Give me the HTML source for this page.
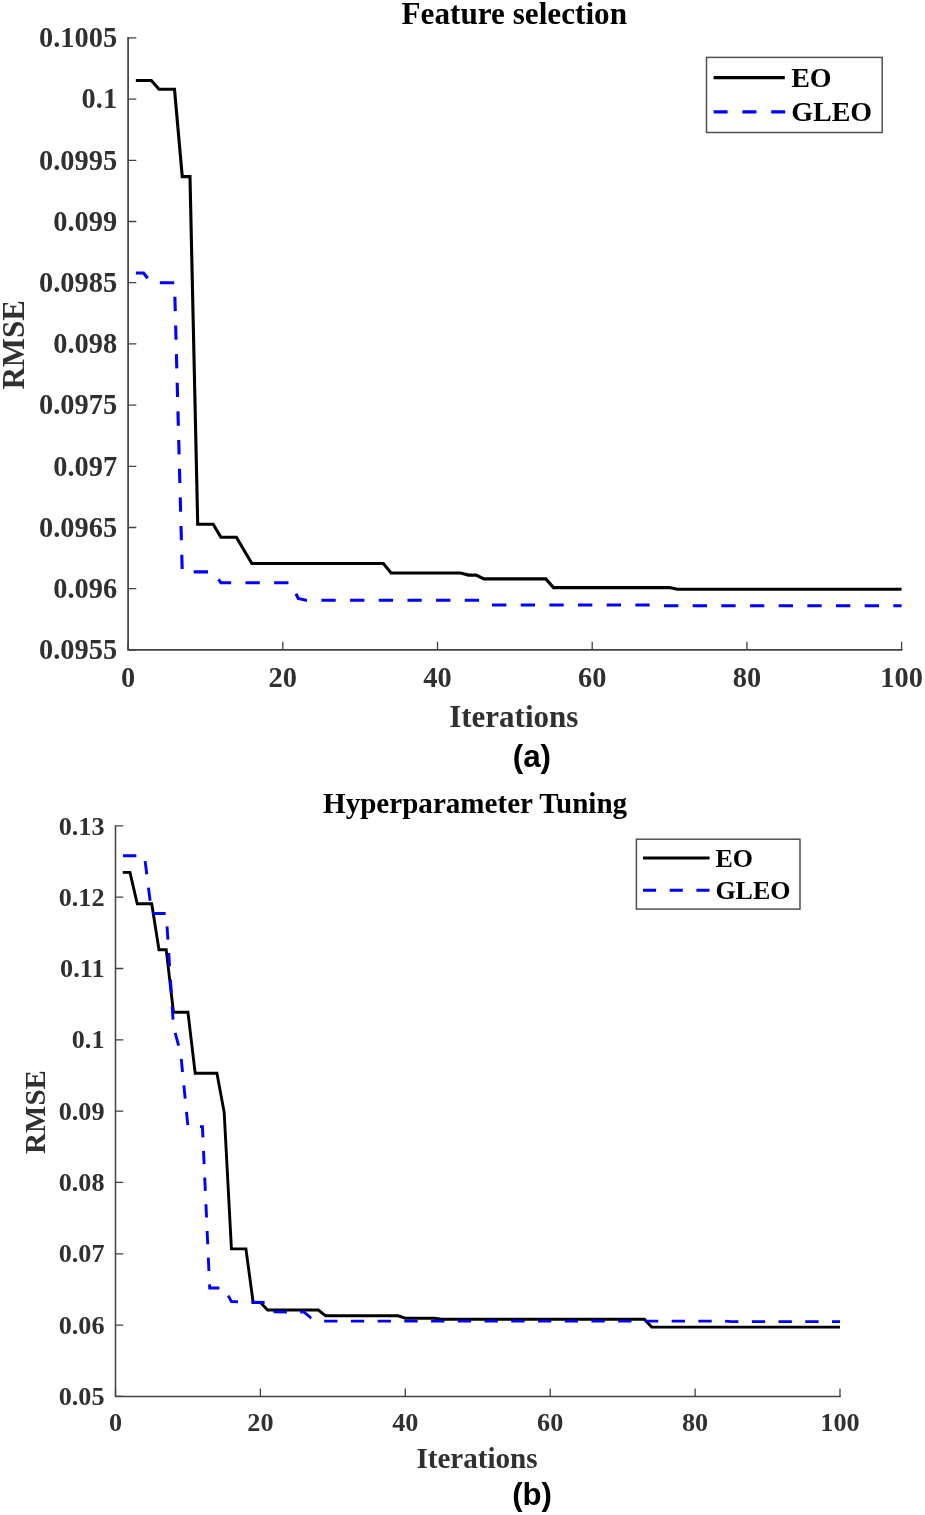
<!DOCTYPE html><html><head><meta charset="utf-8"><style>html,body{margin:0;padding:0;background:#fff;}svg{display:block;will-change:transform;} text{font-family:"Liberation Serif",serif;font-weight:bold;}</style></head><body>
<svg width="925" height="1515" viewBox="0 0 925 1515">
<rect width="925" height="1515" fill="#fff"/>
<polyline points="135.84,80.5 151.31,80.5 159.04,89.3 174.51,89.3 182.25,176.6 189.98,176.6 197.71,524.3 213.19,524.3 220.92,537.3 236.39,537.3 251.86,563.5 383.36,563.5 391.09,573 460.71,573 468.44,575.1 476.17,575.1 483.91,578.9 545.79,578.9 553.52,587.6 669.55,587.6 677.28,589.2 901.6,589.2" fill="none" stroke="#000" stroke-width="3.1" stroke-linejoin="miter" stroke-miterlimit="10"/>
<polyline points="135.84,273 143.57,273 151.31,282.8 174.51,282.8 182.25,571.9 213.19,571.9 220.92,582.7 290.53,582.7 298.27,598.5 306,600.2 483.91,600.2 491.64,605 654.08,605 661.82,605.7 901.6,605.7" fill="none" stroke="#00f" stroke-width="3.1" stroke-dasharray="14.3 14.365" stroke-dashoffset="-0.09" stroke-linejoin="miter"/>
<path d="M128.1 37.9V649.9H901.6" fill="none" stroke="#424242" stroke-width="1.7" stroke-linejoin="miter" stroke-linecap="square"/>
<path d="M128.1 37.9H136.3M128.1 99.1H136.3M128.1 160.3H136.3M128.1 221.5H136.3M128.1 282.7H136.3M128.1 343.9H136.3M128.1 405.1H136.3M128.1 466.3H136.3M128.1 527.5H136.3M128.1 588.7H136.3M128.1 649.9H136.3M128.1 649.9V641.7M282.8 649.9V641.7M437.5 649.9V641.7M592.2 649.9V641.7M746.9 649.9V641.7M901.6 649.9V641.7" fill="none" stroke="#424242" stroke-width="1.3"/>
<text x="117.1" y="47.2" font-size="28.4" fill="#303030" text-anchor="end">0.1005</text>
<text x="117.1" y="108.4" font-size="28.4" fill="#303030" text-anchor="end">0.1</text>
<text x="117.1" y="169.6" font-size="28.4" fill="#303030" text-anchor="end">0.0995</text>
<text x="117.1" y="230.8" font-size="28.4" fill="#303030" text-anchor="end">0.099</text>
<text x="117.1" y="292" font-size="28.4" fill="#303030" text-anchor="end">0.0985</text>
<text x="117.1" y="353.2" font-size="28.4" fill="#303030" text-anchor="end">0.098</text>
<text x="117.1" y="414.4" font-size="28.4" fill="#303030" text-anchor="end">0.0975</text>
<text x="117.1" y="475.6" font-size="28.4" fill="#303030" text-anchor="end">0.097</text>
<text x="117.1" y="536.8" font-size="28.4" fill="#303030" text-anchor="end">0.0965</text>
<text x="117.1" y="598" font-size="28.4" fill="#303030" text-anchor="end">0.096</text>
<text x="117.1" y="659.2" font-size="28.4" fill="#303030" text-anchor="end">0.0955</text>
<text x="128.1" y="687" font-size="28.4" fill="#303030" text-anchor="middle">0</text>
<text x="282.8" y="687" font-size="28.4" fill="#303030" text-anchor="middle">20</text>
<text x="437.5" y="687" font-size="28.4" fill="#303030" text-anchor="middle">40</text>
<text x="592.2" y="687" font-size="28.4" fill="#303030" text-anchor="middle">60</text>
<text x="746.9" y="687" font-size="28.4" fill="#303030" text-anchor="middle">80</text>
<text x="901.6" y="687" font-size="28.4" fill="#303030" text-anchor="middle">100</text>
<text x="514.3" y="23.7" font-size="31.2" fill="#000" text-anchor="middle">Feature selection</text>
<text x="513.8" y="726.8" font-size="31" fill="#303030" text-anchor="middle">Iterations</text>
<text transform="translate(24,344.8) rotate(-90)" font-size="31" fill="#303030" text-anchor="middle">RMSE</text>
<text x="531.9" y="767" font-size="31.4" fill="#000" text-anchor="middle" style="font-family:'Liberation Sans',sans-serif">(a)</text>
<rect x="706.5" y="57.4" width="175.7" height="75.1" fill="#fff" stroke="#505050" stroke-width="1.5"/>
<path d="M713.6 77.6H784.8" stroke="#000" stroke-width="3.1"/>
<path d="M713.6 111.9H785.4" stroke="#00f" stroke-width="3.1" stroke-dasharray="14 14.8"/>
<text x="791.2" y="86.8" font-size="28" fill="#000">EO</text>
<text x="791.2" y="121.2" font-size="28" fill="#000">GLEO</text>
<polyline points="122.75,872.4 129.99,872.4 137.24,903.8 151.72,903.8 158.97,949.7 166.22,949.7 173.46,1012.2 187.95,1012.2 195.19,1073.3 216.93,1073.3 224.18,1112.4 231.42,1248.9 245.91,1248.9 253.16,1302.5 260.4,1302.5 267.64,1310 318.36,1310 325.61,1315.8 398.06,1315.8 405.3,1318.2 434.28,1318.2 441.52,1319.3 644.38,1319.3 651.63,1327.1 840,1327.1" fill="none" stroke="#000" stroke-width="2.9" stroke-linejoin="miter" stroke-miterlimit="10"/>
<polyline points="122.75,855.8 144.48,855.8 151.72,913.5 166.22,913.5 173.46,1026.3 180.7,1053.5 187.95,1126.6 202.44,1126.6 209.69,1288 224.18,1288 231.42,1301.6 267.64,1302.6 274.89,1311.9 303.87,1312 311.12,1318.1 318.36,1321.1 724.08,1321.1 731.33,1321.6 840,1321.6" fill="none" stroke="#00f" stroke-width="2.9" stroke-dasharray="13.3 13.43" stroke-dashoffset="-0.3" stroke-linejoin="miter"/>
<path d="M115.5 825.9V1396.4H840" fill="none" stroke="#424242" stroke-width="1.5" stroke-linejoin="miter" stroke-linecap="square"/>
<path d="M115.5 825.9H123.3M115.5 897.21H123.3M115.5 968.52H123.3M115.5 1039.84H123.3M115.5 1111.15H123.3M115.5 1182.46H123.3M115.5 1253.78H123.3M115.5 1325.09H123.3M115.5 1396.4H123.3M115.5 1396.4V1388.6M260.4 1396.4V1388.6M405.3 1396.4V1388.6M550.2 1396.4V1388.6M695.1 1396.4V1388.6M840 1396.4V1388.6" fill="none" stroke="#424242" stroke-width="1.3"/>
<text x="104.5" y="834.5" font-size="26.2" fill="#303030" text-anchor="end">0.13</text>
<text x="104.5" y="905.81" font-size="26.2" fill="#303030" text-anchor="end">0.12</text>
<text x="104.5" y="977.12" font-size="26.2" fill="#303030" text-anchor="end">0.11</text>
<text x="104.5" y="1048.44" font-size="26.2" fill="#303030" text-anchor="end">0.1</text>
<text x="104.5" y="1119.75" font-size="26.2" fill="#303030" text-anchor="end">0.09</text>
<text x="104.5" y="1191.06" font-size="26.2" fill="#303030" text-anchor="end">0.08</text>
<text x="104.5" y="1262.38" font-size="26.2" fill="#303030" text-anchor="end">0.07</text>
<text x="104.5" y="1333.69" font-size="26.2" fill="#303030" text-anchor="end">0.06</text>
<text x="104.5" y="1405" font-size="26.2" fill="#303030" text-anchor="end">0.05</text>
<text x="115.5" y="1430.5" font-size="26.2" fill="#303030" text-anchor="middle">0</text>
<text x="260.4" y="1430.5" font-size="26.2" fill="#303030" text-anchor="middle">20</text>
<text x="405.3" y="1430.5" font-size="26.2" fill="#303030" text-anchor="middle">40</text>
<text x="550.2" y="1430.5" font-size="26.2" fill="#303030" text-anchor="middle">60</text>
<text x="695.1" y="1430.5" font-size="26.2" fill="#303030" text-anchor="middle">80</text>
<text x="840" y="1430.5" font-size="26.2" fill="#303030" text-anchor="middle">100</text>
<text x="475.1" y="812.8" font-size="29.1" fill="#000" text-anchor="middle">Hyperparameter Tuning</text>
<text x="477" y="1468.3" font-size="29.1" fill="#303030" text-anchor="middle">Iterations</text>
<text transform="translate(44.8,1112) rotate(-90)" font-size="29" fill="#303030" text-anchor="middle">RMSE</text>
<text x="532.1" y="1504.5" font-size="31.2" fill="#000" text-anchor="middle" style="font-family:'Liberation Sans',sans-serif">(b)</text>
<rect x="636.4" y="839.2" width="163.6" height="69.9" fill="#fff" stroke="#505050" stroke-width="1.5"/>
<path d="M643 858H709.6" stroke="#000" stroke-width="2.9"/>
<path d="M643 890.2H709.6" stroke="#00f" stroke-width="2.9" stroke-dasharray="13.1 13.6"/>
<text x="715.4" y="866.8" font-size="26" fill="#000">EO</text>
<text x="715.4" y="898.6" font-size="26" fill="#000">GLEO</text>
</svg></body></html>
